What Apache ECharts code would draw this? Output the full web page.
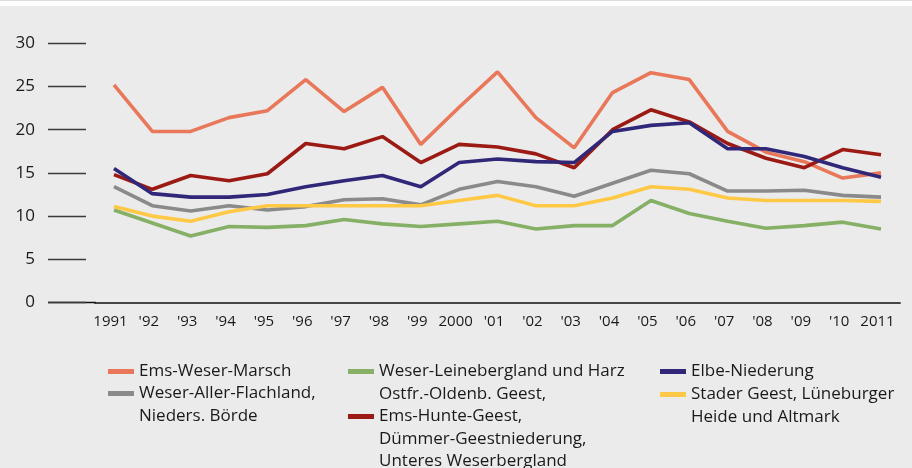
<!DOCTYPE html>
<html>
<head>
<meta charset="utf-8">
<script src="https://cdn.jsdelivr.net/npm/echarts@6/dist/echarts.min.js"></script>
<style>
  html, body { margin: 0; padding: 0; background: #ebebeb; }
  #chart { width: 912px; height: 468px; }
</style>
</head>
<body>
<div id="chart"></div>
<script>
const years = ['1991', "'92", "'93", "'94", "'95", "'96", "'97", "'98", "'99", '2000', "'01", "'02", "'03", "'04", "'05", "'06", "'07", "'08", "'09", "'10", '2011'];
const yTicks = [0, 5, 10, 15, 20, 25, 30];

const emsWeserMarsch = [25.2, 19.8, 19.8, 21.4, 22.2, 25.8, 22.1, 24.9, 18.3, 22.6, 26.7, 21.4, 17.9, 24.3, 26.6, 25.8, 19.8, 17.4, 16.3, 14.4, 15.0];
const weserLeine = [10.7, 9.2, 7.7, 8.8, 8.7, 8.9, 9.6, 9.1, 8.8, 9.1, 9.4, 8.5, 8.9, 8.9, 11.8, 10.3, 9.4, 8.6, 8.9, 9.3, 8.5];
const elbeNiederung = [15.5, 12.6, 12.2, 12.2, 12.5, 13.4, 14.1, 14.7, 13.4, 16.2, 16.6, 16.3, 16.2, 19.8, 20.5, 20.8, 17.8, 17.8, 16.9, 15.6, 14.5];
const weserAller = [13.4, 11.2, 10.6, 11.2, 10.7, 11.1, 11.9, 12.0, 11.3, 13.1, 14.0, 13.4, 12.3, 13.8, 15.3, 14.9, 12.9, 12.9, 13.0, 12.4, 12.2];
const emsHunte = [14.8, 13.1, 14.7, 14.1, 14.9, 18.4, 17.8, 19.2, 16.2, 18.3, 18.0, 17.2, 15.6, 20.0, 22.3, 20.9, 18.4, 16.7, 15.6, 17.7, 17.1];
const staderGeest = [11.1, 10.0, 9.4, 10.5, 11.2, 11.2, 11.2, 11.2, 11.2, 11.8, 12.4, 11.2, 11.2, 12.1, 13.4, 13.1, 12.1, 11.8, 11.8, 11.8, 11.7];

const seriesNames = [
  'Ems-Weser-Marsch',
  'Weser-Leinebergland und Harz',
  'Elbe-Niederung',
  'Weser-Aller-Flachland,\nNieders. Börde',
  'Ostfr.-Oldenb. Geest,\nEms-Hunte-Geest,\nDümmer-Geestniederung,\nUnteres Weserbergland',
  'Stader Geest, Lüneburger\nHeide und Altmark'
];
const seriesColors = ['#e9775a', '#85b066', '#302779', '#8a8a8a', '#9c1a14', '#ffc845'];
const seriesData = [emsWeserMarsch, weserLeine, elbeNiederung, weserAller, emsHunte, staderGeest];
// drawing order (later = on top)
const drawOrder = [0, 3, 1, 4, 5, 2];

const LH = 22.5;
const legendFont = { fontFamily: 'Open Sans', fontSize: 17, color: '#1a1a1a', lineHeight: LH };
// lead: add an empty first line so the icon sits beside the intended text line
const legendPos = [
  { idx: 0, left: 108, top: 360.25, lead: false },
  { idx: 3, left: 108, top: 359.75, lead: true },
  { idx: 1, left: 348, top: 360.25, lead: false },
  { idx: 4, left: 348, top: 360.25, lead: true },
  { idx: 2, left: 660, top: 360.25, lead: false },
  { idx: 5, left: 660, top: 360.75, lead: true }
];

const chart = echarts.init(document.getElementById('chart'), null, { renderer: 'canvas' });

const option = {
  backgroundColor: '#ebebeb',
  animation: false,
  grid: { left: 94.8, right: 11.8, top: 43.3, bottom: 165.5, containLabel: false },
  xAxis: {
    type: 'category',
    data: years,
    boundaryGap: true,
    axisLine: { show: true, lineStyle: { color: '#111', width: 1.5 } },
    axisTick: { show: false },
    axisLabel: {
      interval: 0,
      margin: 12,
      fontFamily: 'Open Sans',
      fontSize: 15,
      color: '#1a1a1a',
      padding: [0, 7, 0, 0]
    }
  },
  yAxis: {
    type: 'value',
    min: yTicks[0],
    max: yTicks[yTicks.length - 1],
    interval: 5,
    offset: 8.8,
    axisLine: { show: false },
    axisTick: { show: true, length: 38, inside: false, lineStyle: { color: '#3a3a3a', width: 1.4 } },
    splitLine: { show: false },
    axisLabel: {
      margin: 51,
      fontFamily: 'Open Sans',
      fontSize: 17,
      color: '#1a1a1a'
    }
  },
  legend: legendPos.map(p => ({
    data: [seriesNames[p.idx]],
    left: p.left,
    top: p.top,
    padding: 0,
    itemWidth: 26,
    itemHeight: 5,
    icon: 'rect',
    selectedMode: false,
    formatter: p.lead ? (name => '\n' + name) : (name => name),
    textStyle: legendFont
  })),
  series: drawOrder.map(i => ({
    name: seriesNames[i],
    type: 'line',
    data: seriesData[i],
    symbol: 'none',
    smooth: false,
    color: seriesColors[i],
    lineStyle: { width: 3.6, color: seriesColors[i] },
    itemStyle: { color: seriesColors[i] }
  }))
};
chart.setOption(option);

const y0 = chart.convertToPixel({ yAxisIndex: 0 }, 0);
const gridLeft = chart.convertToPixel({ xAxisIndex: 0 }, 0) - (chart.convertToPixel({ xAxisIndex: 0 }, 1) - chart.convertToPixel({ xAxisIndex: 0 }, 0)) / 2;
chart.setOption({
  graphic: [
    { type: 'rect', left: 0, top: 0, shape: { width: 912, height: 6 }, style: { fill: '#ffffff' }, silent: true },
    { type: 'rect', left: 0, top: 0, shape: { width: 912, height: 1 }, style: { fill: '#dcdcdc' }, silent: true },
    { type: 'line', shape: { x1: 48, y1: y0, x2: gridLeft + 1, y2: y0 }, style: { stroke: '#111', lineWidth: 1.5 }, silent: true }
  ]
});
</script>
</body>
</html>
